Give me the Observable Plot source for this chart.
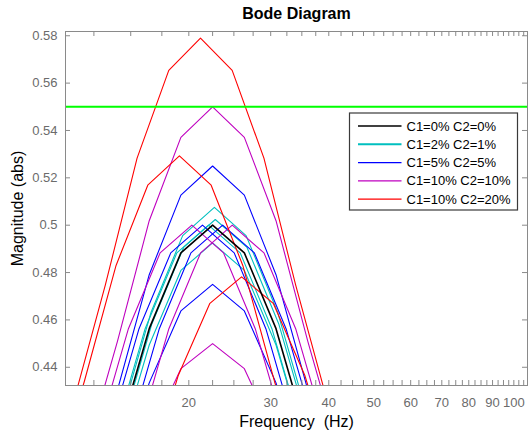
<!DOCTYPE html>
<html><head><meta charset="utf-8">
<script src="https://cdn.jsdelivr.net/npm/d3@7"></script>
<script src="https://cdn.jsdelivr.net/npm/@observablehq/plot@0.6"></script>
<style>
body{margin:0;background:#fff;}
#chart{width:528px;height:434px;overflow:hidden;}
</style></head><body><div id="chart"></div>
<script>
// ---------- labels / ticks ----------
const chartTitle = "Bode Diagram";
const xLabel = "Frequency \u00a0(Hz)";
const yLabel = "Magnitude (abs)";
const legendLabels = ["C1=0% C2=0%", "C1=2% C2=1%", "C1=5% C2=5%", "C1=10% C2=10%", "C1=10% C2=20%"];
const legendColors = ["#000000", "#00bfbf", "#0000ff", "#bf00bf", "#ff0000"];
const xTickValues = [12.5, 15, 17.5, 20, 22.5, 25, 27.5, 30, 32.5, 35, 37.5, 40, 42.5, 45, 47.5, 50, 52.5, 55, 57.5, 60, 62.5, 65, 67.5, 70, 72.5, 75, 77.5, 80, 82.5, 85, 87.5, 90, 92.5, 95, 97.5, 100, 102.5, 105];
const xTickLabels = [20, 30, 40, 50, 60, 70, 80, 90, 100];
const yTickValues = [0.44, 0.46, 0.48, 0.5, 0.52, 0.54, 0.56, 0.58];
const limitLevel = [0.55];

// ---------- series (frequency Hz, magnitude abs) ----------
const blackFreq = [[12.01, 14.05, 16.44, 19.23, 22.5, 26.33, 30.80, 36.04, 42.16]];
const blackMag  = [[0.3675, 0.410, 0.4563, 0.4883, 0.500, 0.4883, 0.4563, 0.410, 0.3675]];

const cyanFreq = [
  [12.11, 14.17, 16.58, 19.40, 22.7, 26.56, 31.07, 36.36, 42.54],
  [12.17, 14.24, 16.66, 19.49, 22.8, 26.68, 31.21, 36.52, 42.72],
  [11.77, 13.77, 16.11, 18.85, 22.05, 25.80, 30.18, 35.32, 41.32],
  [12.01, 14.05, 16.44, 19.23, 22.5, 26.33, 30.80, 36.04, 42.16]
];
const cyanMag = [
  [0.373, 0.4162, 0.4631, 0.4956, 0.5075, 0.4956, 0.4631, 0.4162, 0.373],
  [0.3693, 0.412, 0.4584, 0.4906, 0.5024, 0.4906, 0.4584, 0.412, 0.3693],
  [0.3675, 0.410, 0.4563, 0.4883, 0.500, 0.4883, 0.4563, 0.410, 0.3675],
  [0.362, 0.4039, 0.4494, 0.4809, 0.4925, 0.4809, 0.4494, 0.4039, 0.362]
];

const blueFreq = [
  [12.01, 14.05, 16.44, 19.23, 22.5, 26.33, 30.80, 36.04, 42.16],
  [12.01, 14.05, 16.44, 19.23, 22.5, 26.33, 30.80, 36.04, 42.16],
  [11.42, 13.36, 15.63, 18.29, 21.4, 25.04, 29.29, 34.27, 40.10],
  [12.62, 14.77, 17.28, 20.21, 23.65, 27.67, 32.37, 37.88, 44.32]
];
const blueMag = [
  [0.3859, 0.4305, 0.4791, 0.5127, 0.525, 0.5127, 0.4791, 0.4305, 0.3859],
  [0.3491, 0.3895, 0.4334, 0.4638, 0.475, 0.4638, 0.4334, 0.3895, 0.3491],
  [0.3675, 0.410, 0.4563, 0.4883, 0.500, 0.4883, 0.4563, 0.410, 0.3675],
  [0.3675, 0.410, 0.4563, 0.4883, 0.500, 0.4883, 0.4563, 0.410, 0.3675]
];

const purpleFreq = [
  [12.01, 14.05, 16.44, 19.23, 22.5, 26.33, 30.80, 36.04, 42.16],
  [12.01, 14.05, 16.44, 19.23, 22.5, 26.33, 30.80, 36.04, 42.16],
  [10.83, 12.68, 14.83, 17.35, 20.3, 23.75, 27.79, 32.51, 38.04],
  [13.24, 15.49, 18.12, 21.20, 24.8, 29.02, 33.95, 39.72, 46.47]
];
const purpleMag = [
  [0.4043, 0.451, 0.5019, 0.5371, 0.550, 0.5371, 0.5019, 0.451, 0.4043],
  [0.3308, 0.369, 0.4106, 0.4394, 0.450, 0.4394, 0.4106, 0.369, 0.3308],
  [0.3675, 0.410, 0.4563, 0.4883, 0.500, 0.4883, 0.4563, 0.410, 0.3675],
  [0.3675, 0.410, 0.4563, 0.4883, 0.500, 0.4883, 0.4563, 0.410, 0.3675]
];

const redFreq = [
  [11.31, 13.23, 15.48, 18.11, 21.19, 24.79, 29.01, 33.94, 39.71],
  [10.19, 11.92, 13.95, 16.32, 19.09, 22.34, 26.13, 30.57, 35.77],
  [13.86, 16.22, 18.97, 22.20, 25.97, 30.38, 35.55, 41.59, 48.67]
];
const redMag = [
  [0.4256, 0.4748, 0.5283, 0.5654, 0.579, 0.5654, 0.5283, 0.4748, 0.4256],
  [0.389, 0.434, 0.483, 0.5169, 0.5293, 0.5169, 0.483, 0.434, 0.389],
  [0.3515, 0.3921, 0.4364, 0.467, 0.4782, 0.467, 0.4364, 0.3921, 0.3515]
];

// ---------- build long table (draw order: cyan, blue, purple, red, black) ----------
const groupDefs = [
  {g: 1, freq: cyanFreq, mag: cyanMag, w: 1.1},
  {g: 2, freq: blueFreq, mag: blueMag, w: 1.1},
  {g: 3, freq: purpleFreq, mag: purpleMag, w: 1.1},
  {g: 4, freq: redFreq, mag: redMag, w: 1.1},
  {g: 0, freq: blackFreq, mag: blackMag, w: 1.6}
];
const rows = [];
groupDefs.forEach(def => {
  def.freq.forEach((fs, i) => {
    fs.forEach((f, j) => rows.push({id: legendLabels[def.g] + "#" + i, group: legendLabels[def.g], f, m: def.mag[i][j]}));
  });
});

const W = 528, H = 434;
const mL = 65, mR = 1, mT = 31, mB = 49;
const fw = W - mL - mR, fh = H - mT - mB;
const axisGray = "#8a8a8a";
const textGray = "#6b6b6b";
const font = "'Liberation Sans', Arial, Helvetica, sans-serif";

const lineMarks = groupDefs.map(def => Plot.line(rows.filter(r => r.group === legendLabels[def.g]), {
  x: "f", y: "m", z: "id", stroke: "group", strokeWidth: def.w, clip: true
}));

const plot = Plot.plot({
  width: W, height: H,
  marginLeft: mL, marginRight: mR, marginTop: mT, marginBottom: mB,
  style: {fontFamily: font, background: "#fff", overflow: "visible"},
  x: {type: "log", domain: [10.86, 107], axis: null},
  y: {domain: [0.4323, 0.5818], axis: null},
  color: {domain: legendLabels, range: legendColors},
  marks: [
    ...lineMarks,
    Plot.ruleY(limitLevel, {stroke: "#00ff00", strokeWidth: 2}),
    Plot.frame({stroke: axisGray, strokeWidth: 1}),
    Plot.ruleX(xTickValues, {stroke: axisGray, insetTop: fh - 5}),
    Plot.ruleX(xTickValues, {stroke: axisGray, insetBottom: fh - 5}),
    Plot.ruleY(yTickValues, {stroke: axisGray, insetRight: fw - 5}),
    Plot.ruleY(yTickValues, {stroke: axisGray, insetLeft: fw - 5}),
    Plot.text(xTickLabels, {x: d => d, text: d => String(d), frameAnchor: "bottom", lineAnchor: "middle", dy: 17.5, fontSize: 13, fill: textGray}),
    Plot.text(yTickValues, {y: d => d, text: d => String(+d.toFixed(2)), frameAnchor: "left", textAnchor: "end", lineAnchor: "middle", dx: -8, fontSize: 13, fill: textGray}),
    Plot.text([xLabel], {text: d => d, frameAnchor: "bottom", lineAnchor: "middle", textAnchor: "middle", dy: 36.5, fontSize: 16, fill: "#000"}),
    Plot.text([yLabel], {text: d => d, frameAnchor: "left", lineAnchor: "middle", textAnchor: "middle", dx: -48, rotate: -90, fontSize: 16, fill: "#000"}),
    Plot.text([chartTitle], {text: d => d, frameAnchor: "top", lineAnchor: "middle", textAnchor: "middle", dy: -17.5, fontSize: 16, fontWeight: "bold", fill: "#000"})
  ]
});
document.getElementById("chart").appendChild(plot);

// ---------- legend ----------
const svg = d3.select(plot);
const lg = svg.append("g").attr("font-family", font).attr("font-size", 13).attr("text-anchor", "start");
const box = {x: 349.5, y: 113, w: 168, h: 97};
lg.append("rect").attr("x", box.x).attr("y", box.y).attr("width", box.w).attr("height", box.h)
  .attr("fill", "#fff").attr("stroke", "#3a3a3a").attr("stroke-width", 1.2);
legendLabels.forEach((lab, i) => {
  const cy = 126 + i * 18.3;
  lg.append("line").attr("x1", 358).attr("x2", 401.5).attr("y1", cy).attr("y2", cy)
    .attr("stroke", legendColors[i]).attr("stroke-width", i === 1 ? 2 : 1.3);
  lg.append("text").attr("x", 406.5).attr("y", cy).attr("dy", "0.35em").attr("text-anchor", "start").attr("fill", "#000").text(lab);
});
</script></body></html>
